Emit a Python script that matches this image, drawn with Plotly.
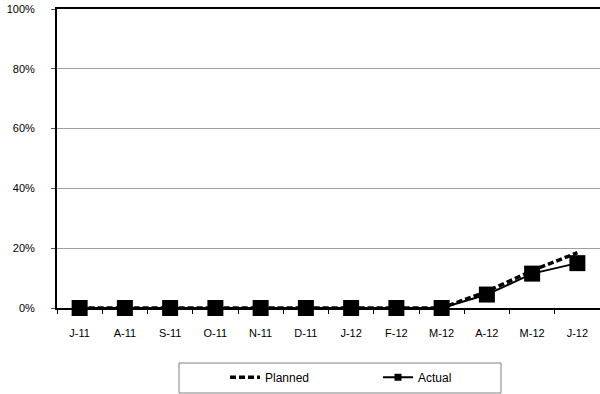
import plotly.graph_objects as go

months = ["J-11", "A-11", "S-11", "O-11", "N-11", "D-11", "J-12", "F-12", "M-12", "A-12", "M-12", "J-12"]
planned = [0, 0, 0, 0, 0, 0, 0, 0, 0, 0.055, 0.125, 0.185]
actual = [0, 0, 0, 0, 0, 0, 0, 0, 0, 0.045, 0.115, 0.15]
y_ticks = [0, 0.2, 0.4, 0.6, 0.8, 1.0]

xpos = list(range(len(months)))
font = dict(family="Liberation Sans, Arial, sans-serif", size=11, color="#000000")
legend_font = dict(family="Liberation Sans, Arial, sans-serif", size=12, color="#000000")

fig = go.Figure()
fig.add_trace(go.Scatter(
    x=xpos, y=planned, name="Planned", mode="lines", cliponaxis=False,
    line=dict(color="black", width=3.5, dash="6px,3px"),
))
fig.add_trace(go.Scatter(
    x=xpos, y=actual, name="Actual", mode="lines+markers", showlegend=False,
    legendgroup="actual", cliponaxis=False,
    line=dict(color="black", width=2),
    marker=dict(symbol="square", size=16, color="black"),
))
# legend-only entry with a small marker, as in the reference legend
fig.add_trace(go.Scatter(
    x=[None], y=[None], name="Actual", mode="lines+markers", legendgroup="actual",
    line=dict(color="black", width=2),
    marker=dict(symbol="square", size=7, color="black"),
))

# legend frame
fig.add_shape(type="rect", xref="paper", yref="paper",
              x0=0.2247, x1=0.8177, y0=-0.2843, y1=-0.184,
              line=dict(color="#808080", width=1), fillcolor="white", layer="below")

fig.update_layout(
    width=600, height=394,
    margin=dict(l=57, r=0, t=9, b=86, autoexpand=False),
    paper_bgcolor="white", plot_bgcolor="white",
    font=font,
    showlegend=True,
    legend=dict(
        orientation="h", xref="container", yref="container",
        x=0.375, xanchor="left", y=0.079, yanchor="top",
        borderwidth=0, bgcolor="rgba(0,0,0,0)",
        entrywidth=108, itemsizing="trace",
        font=legend_font,
    ),
    xaxis=dict(
        range=[-0.5, 11.5], tickmode="array", tickvals=xpos, ticktext=months,
        ticks="", ticklabelstandoff=14, tickfont=font, automargin=False,
        showline=True, linecolor="black", linewidth=2, mirror=True,
        showgrid=False, zeroline=False,
        minor=dict(ticks="outside", tickmode="linear", tick0=0.5, dtick=1,
                   ticklen=4, tickcolor="black", showgrid=False),
    ),
    yaxis=dict(
        range=[0, 1], tickmode="array", tickvals=y_ticks, tickformat=".0%",
        ticks="outside", ticklen=4, tickcolor="#555555", ticklabelstandoff=14,
        tickfont=font, automargin=False,
        showline=True, linecolor="black", linewidth=2,
        showgrid=True, gridcolor="#a0a0a0", gridwidth=1, zeroline=False,
    ),
)

fig.write_html("out.html", config={"displayModeBar": False},
               post_script="document.body.style.margin='0';")
